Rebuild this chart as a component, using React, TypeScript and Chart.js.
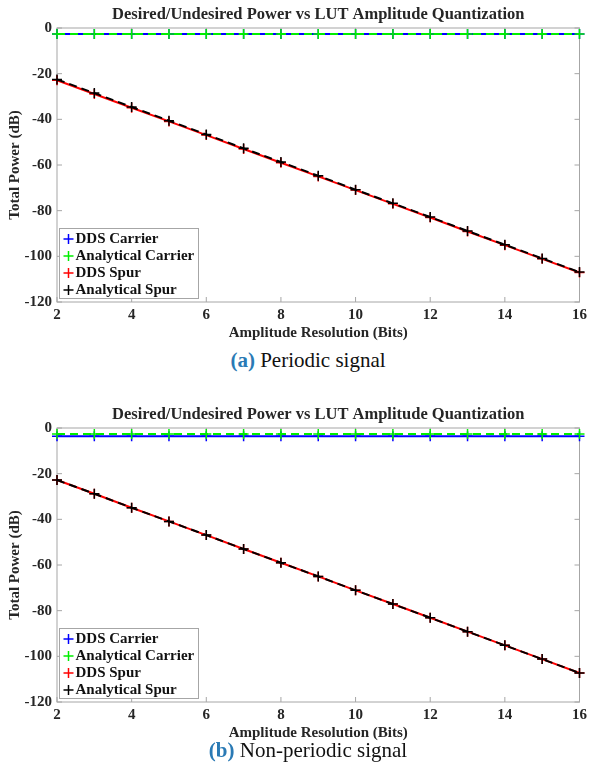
import React, { useEffect, useRef } from 'react';
import { Chart, registerables } from 'chart.js';

Chart.register(...registerables);

// ---------- data ----------
const bits = [2, 3, 4, 5, 6, 7, 8, 9, 10, 11, 12, 13, 14, 15, 16];
const xTickValues = [2, 4, 6, 8, 10, 12, 14, 16];
const yTickValues = [0, -20, -40, -60, -80, -100, -120];
const seriesLabels = ['DDS Carrier', 'Analytical Carrier', 'DDS Spur', 'Analytical Spur'];
const chartTitle = 'Desired/Undesired Power vs LUT Amplitude Quantization';
const xAxisTitle = 'Amplitude Resolution (Bits)';
const yAxisTitle = 'Total Power (dB)';

// (a) periodic signal
const ddsCarrierA = [-2.6, -2.6, -2.6, -2.6, -2.6, -2.6, -2.6, -2.6, -2.6, -2.6, -2.6, -2.6, -2.6, -2.6, -2.6];
const anaCarrierA = [-2.6, -2.6, -2.6, -2.6, -2.6, -2.6, -2.6, -2.6, -2.6, -2.6, -2.6, -2.6, -2.6, -2.6, -2.6];
const ddsSpurA = [-22.9, -28.9, -34.9, -40.9, -46.9, -53.0, -59.0, -65.0, -71.0, -77.0, -83.0, -89.1, -95.1, -101.1, -107.1];
const anaSpurA = [-22.5, -28.5, -34.6, -40.6, -46.6, -52.7, -58.7, -64.7, -70.8, -76.8, -82.8, -88.9, -94.9, -100.9, -106.9];

// (b) non-periodic signal
const ddsCarrierB = [-3.6, -3.6, -3.6, -3.6, -3.6, -3.6, -3.6, -3.6, -3.6, -3.6, -3.6, -3.6, -3.6, -3.6, -3.6];
const anaCarrierB = [-2.6, -2.6, -2.6, -2.6, -2.6, -2.6, -2.6, -2.6, -2.6, -2.6, -2.6, -2.6, -2.6, -2.6, -2.6];
const ddsSpurB = [-22.8, -28.8, -34.9, -40.9, -46.9, -53.0, -59.0, -65.0, -71.1, -77.1, -83.1, -89.2, -95.2, -101.2, -107.3];
const anaSpurB = [-22.8, -28.8, -34.9, -40.9, -46.9, -53.0, -59.0, -65.0, -71.1, -77.1, -83.1, -89.2, -95.2, -101.2, -107.3];

const seriesColors = ['#0000ff', '#00ee00', '#ff0000', '#000000'];
const seriesDashes: number[][] = [[], [8, 5], [], [8, 5]];

const FONT = '"Liberation Serif", "Times New Roman", serif';
const AXIS_COLOR = '#a6a6a6';
const TEXT_COLOR = '#262626';

// ---------- plugins ----------
const boxPlugin = {
  id: 'matlabBox',
  beforeDatasetsDraw(chart: any) {
    const { ctx, chartArea: a, scales } = chart;
    ctx.save();
    ctx.strokeStyle = AXIS_COLOR;
    ctx.lineWidth = 1;
    ctx.strokeRect(a.left, a.top, a.right - a.left, a.bottom - a.top);
    const tl = 5;
    ctx.beginPath();
    scales.x.ticks.forEach((t: any) => {
      const x = scales.x.getPixelForValue(t.value);
      ctx.moveTo(x, a.bottom);
      ctx.lineTo(x, a.bottom - tl);
      ctx.moveTo(x, a.top);
      ctx.lineTo(x, a.top + tl);
    });
    scales.y.ticks.forEach((t: any) => {
      const y = scales.y.getPixelForValue(t.value);
      ctx.moveTo(a.left, y);
      ctx.lineTo(a.left + tl, y);
      ctx.moveTo(a.right, y);
      ctx.lineTo(a.right - tl, y);
    });
    ctx.stroke();
    // title
    ctx.fillStyle = TEXT_COLOR;
    ctx.font = `bold 16.5px ${FONT}`;
    ctx.textAlign = 'center';
    ctx.textBaseline = 'middle';
    ctx.fillText(chartTitle, (a.left + a.right) / 2, a.top - 13);
    ctx.restore();
  },
};

const legendPlugin = {
  id: 'matlabLegend',
  afterDatasetsDraw(chart: any) {
    const { ctx, chartArea: a } = chart;
    const w = 139;
    const h = 70;
    const left = Math.round(a.left + 2) + 0.5;
    const bottom = Math.round(a.bottom - 4) + 0.5;
    const top = bottom - h;
    ctx.save();
    ctx.fillStyle = '#ffffff';
    ctx.fillRect(left, top, w, h);
    ctx.strokeStyle = AXIS_COLOR;
    ctx.lineWidth = 1;
    ctx.strokeRect(left, top, w, h);
    ctx.font = `bold 15px ${FONT}`;
    ctx.textBaseline = 'middle';
    ctx.textAlign = 'left';
    chart.data.datasets.forEach((ds: any, i: number) => {
      const y = top + 10.5 + i * 17;
      const mx = left + 9;
      ctx.strokeStyle = ds.borderColor;
      ctx.lineWidth = 1.5;
      ctx.beginPath();
      ctx.moveTo(mx - 5, y);
      ctx.lineTo(mx + 5, y);
      ctx.moveTo(mx, y - 5);
      ctx.lineTo(mx, y + 5);
      ctx.stroke();
      ctx.fillStyle = '#111111';
      ctx.fillText(ds.label, left + 16, y + 0.5);
    });
    ctx.restore();
  },
};

// ---------- panel ----------
type PanelProps = { top: number; series: number[][] };

function Panel({ top, series }: PanelProps) {
  const ref = useRef<HTMLCanvasElement | null>(null);

  useEffect(() => {
    if (!ref.current) return;
    const datasets = series.map((vals, i) => ({
      label: seriesLabels[i],
      data: bits.map((b, j) => ({ x: b, y: vals[j] })),
      borderColor: seriesColors[i],
      backgroundColor: seriesColors[i],
      borderWidth: 2,
      borderDash: seriesDashes[i],
      pointStyle: 'cross',
      pointRadius: 5,
      pointBorderWidth: 1.5,
      pointBorderColor: seriesColors[i],
      tension: 0,
      clip: false,
      order: series.length - 1 - i,
    }));
    const chart = new Chart(ref.current, {
      type: 'line',
      data: { datasets },
      options: {
        animation: false,
        responsive: false,
        maintainAspectRatio: false,
        layout: { padding: { left: 0, right: 9, top: 28, bottom: 0 } },
        plugins: { legend: { display: false }, tooltip: { enabled: false }, title: { display: false } },
        scales: {
          x: {
            type: 'linear',
            min: 2,
            max: 16,
            afterBuildTicks: (s: any) => {
              s.ticks = xTickValues.map((v) => ({ value: v }));
            },
            afterFit: (s: any) => {
              s.height = 40;
            },
            grid: { display: false, drawTicks: false },
            border: { display: false },
            ticks: {
              padding: 4,
              color: TEXT_COLOR,
              font: { family: FONT, size: 15, weight: 'bold' },
              maxRotation: 0,
              autoSkip: false,
            },
            title: {
              display: true,
              text: xAxisTitle,
              color: TEXT_COLOR,
              font: { family: FONT, size: 15, weight: 'bold', lineHeight: 1.2 },
              padding: { top: 0, bottom: 0 },
            },
          },
          y: {
            type: 'linear',
            min: -120,
            max: 0,
            afterBuildTicks: (s: any) => {
              s.ticks = yTickValues.map((v) => ({ value: v }));
            },
            afterFit: (s: any) => {
              s.width = 57;
            },
            grid: { display: false, drawTicks: false },
            border: { display: false },
            ticks: {
              padding: 5,
              color: TEXT_COLOR,
              font: { family: FONT, size: 15, weight: 'bold' },
              autoSkip: false,
            },
            title: {
              display: true,
              text: yAxisTitle,
              color: TEXT_COLOR,
              font: { family: FONT, size: 15, weight: 'bold', lineHeight: 1.2 },
              padding: { top: 6, bottom: 0 },
            },
          },
        },
      },
      plugins: [boxPlugin, legendPlugin],
    } as any);
    return () => chart.destroy();
  }, [series]);

  return (
    <canvas
      ref={ref}
      width={591}
      height={342}
      style={{ position: 'absolute', left: 0, top, width: 591, height: 342 }}
    />
  );
}

const seriesA = [ddsCarrierA, anaCarrierA, ddsSpurA, anaSpurA];
const seriesB = [ddsCarrierB, anaCarrierB, ddsSpurB, anaSpurB];

function Caption({ top, tag, text }: { top: number; tag: string; text: string }) {
  return (
    <div
      style={{
        position: 'absolute',
        left: 308,
        top,
        transform: 'translateX(-50%)',
        whiteSpace: 'nowrap',
        fontFamily: FONT,
        fontSize: 21,
        lineHeight: '24px',
        color: '#111',
      }}
    >
      <span style={{ fontWeight: 'bold', color: '#2a7ab5' }}>{tag}</span> {text}
    </div>
  );
}

export default function App() {
  return (
    <div
      style={{
        position: 'absolute',
        left: 0,
        top: 0,
        width: 591,
        height: 776,
        background: '#ffffff',
        overflow: 'hidden',
      }}
    >
      <Panel top={0} series={seriesA} />
      <Caption top={348} tag="(a)" text="Periodic signal" />
      <Panel top={400} series={seriesB} />
      <Caption top={738} tag="(b)" text="Non-periodic signal" />
    </div>
  );
}
